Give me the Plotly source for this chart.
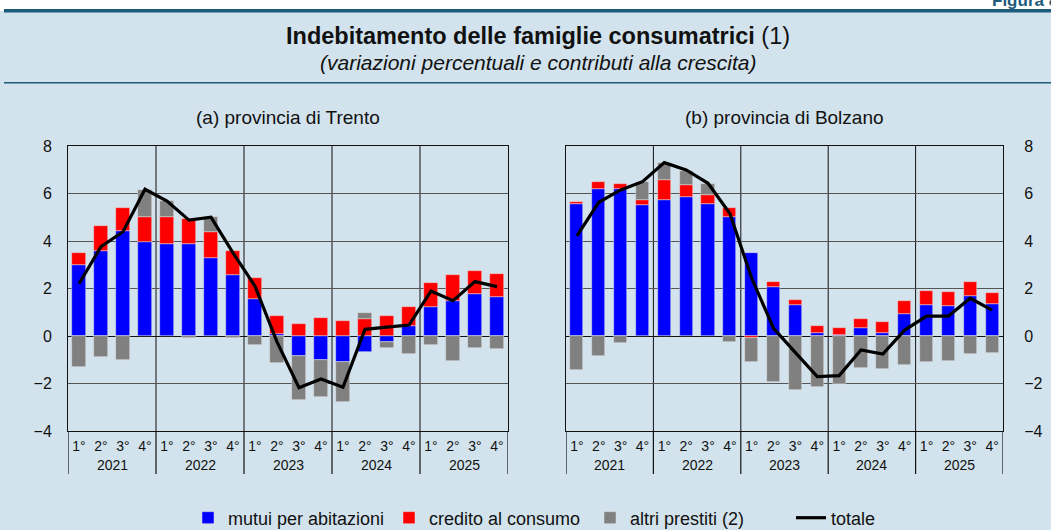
import plotly.graph_objects as go

W, H = 1051, 530

years = ["2021", "2022", "2023", "2024", "2025"]
quarters = ["1°", "2°", "3°", "4°"]

# Trento contributions
tn_mutui = [3.00, 3.58, 4.43, 3.97, 3.87, 3.89, 3.27, 2.57, 1.56, 0.08,
            -0.84, -1.01, -1.09, -0.67, -0.25, 0.44, 1.21, 1.46, 1.75, 1.66]
tn_credito = [0.50, 1.07, 0.97, 1.03, 1.15, 1.05, 1.12, 0.99, 0.87, 0.76,
              0.50, 0.74, 0.63, 0.70, 0.86, 0.77, 1.04, 1.10, 1.00, 0.96]
tn_altri = [-1.29, -0.90, -1.01, 1.15, 0.66, -0.10, 0.61, -0.10, -0.38, -1.15,
            -1.84, -1.57, -1.69, 0.25, -0.25, -0.76, -0.38, -1.05, -0.49, -0.56]
tn_totale = [2.20, 3.76, 4.39, 6.18, 5.68, 4.88, 5.00, 3.50, 2.10, -0.25,
             -2.18, -1.81, -2.16, 0.28, 0.37, 0.46, 1.89, 1.49, 2.29, 2.08]

# Bolzano contributions
bz_mutui = [5.56, 6.19, 6.18, 5.53, 5.74, 5.87, 5.56, 5.02, 3.49, 2.08,
            1.31, 0.11, 0.04, 0.35, 0.14, 0.91, 1.32, 1.25, 1.70, 1.33]
bz_credito = [0.10, 0.28, 0.23, 0.20, 0.84, 0.49, 0.38, 0.35, -0.10, 0.21,
              0.19, 0.31, 0.28, 0.37, 0.46, 0.56, 0.59, 0.60, 0.59, 0.48]
bz_altri = [-1.43, -0.84, -0.31, 0.74, 0.69, 0.60, 0.46, -0.24, -1.01, -1.94,
            -2.26, -2.15, -2.00, -1.36, -1.40, -1.23, -1.09, -1.04, -0.74, -0.72]
bz_totale = [4.22, 5.63, 6.15, 6.50, 7.30, 6.99, 6.43, 5.16, 2.43, 0.32,
             -0.70, -1.71, -1.67, -0.59, -0.76, 0.25, 0.84, 0.84, 1.59, 1.09]

y_ticks = [-4, -2, 0, 2, 4, 6, 8]

series_names = ["mutui per abitazioni", "credito al consumo", "altri prestiti (2)", "totale"]
colors = ["#0000ff", "#ff0000", "#808080", "#000000"]

FONT = "Liberation Sans, Arial, sans-serif"
BG = "#d2e3ed"
TEAL = "#1d5c7c"

n = len(years) * len(quarters)
xs = list(range(n))
qlabels = quarters * len(years)

def px_x(p):
    return p / W

def px_y(p):
    return (H - p) / H

fig = go.Figure()

panels = [
    (tn_mutui, tn_credito, tn_altri, tn_totale, "x", "y", True),
    (bz_mutui, bz_credito, bz_altri, bz_totale, "x2", "y2", False),
]
for mut, cre, alt, tot, xa, ya, show in panels:
    for vals, name, col in zip([mut, cre, alt], series_names[:3], colors[:3]):
        fig.add_trace(go.Bar(
            x=xs, y=vals, name=name,
            marker=dict(color=col, line=dict(color="rgba(230,230,230,0.8)", width=0.6)),
            width=0.6, xaxis=xa, yaxis=ya, showlegend=show, legendgroup=name))
    fig.add_trace(go.Scatter(
        x=xs, y=tot, name=series_names[3], mode="lines",
        line=dict(color="#000000", width=3.2), xaxis=xa, yaxis=ya,
        showlegend=show, legendgroup=series_names[3]))

x1_dom = [px_x(68), px_x(508)]
x2_dom = [px_x(566), px_x(1003)]
y_dom = [px_y(431), px_y(146)]

xcommon = dict(range=[-0.5, n - 0.5], tickmode="array", tickvals=xs, ticktext=qlabels,
               ticks="", showgrid=False, zeroline=False, showline=True, linecolor="#111",
               linewidth=1, mirror=True, tickfont=dict(family=FONT, size=14, color="#111"),
               ticklabelstandoff=2, fixedrange=True, automargin=False)
ycommon = dict(range=[-4, 8], tickmode="array", tickvals=y_ticks, ticks="",
               showgrid=True, gridcolor="#555555", gridwidth=1, zeroline=True,
               zerolinecolor="#111", zerolinewidth=1, showline=True, linecolor="#111",
               linewidth=1, mirror=True, tickfont=dict(family=FONT, size=16, color="#111"),
               domain=y_dom, fixedrange=True, automargin=False)

fig.update_layout(
    width=W, height=H,
    autosize=False,
    margin=dict(l=0, r=0, t=0, b=0, pad=0, autoexpand=False),
    paper_bgcolor="#ffffff",
    plot_bgcolor="#ffffff",
    barmode="relative",
    bargap=0,
    font=dict(family=FONT, color="#111"),
    xaxis=dict(domain=x1_dom, anchor="y", **xcommon),
    yaxis=dict(anchor="x", side="left", ticklabelstandoff=12, **ycommon),
    xaxis2=dict(domain=x2_dom, anchor="y2", **xcommon),
    yaxis2=dict(anchor="x2", side="right", ticklabelstandoff=17, **ycommon),
    legend=dict(orientation="h", xref="paper", yref="paper",
                x=188 / W, xanchor="left", y=px_y(518), yanchor="middle",
                font=dict(family=FONT, size=18, color="#111"), bgcolor="rgba(0,0,0,0)",
                itemwidth=30, traceorder="normal", entrywidth=156, entrywidthmode="pixels"),
    showlegend=True,
)

shapes = []
# white strip at the very top, light blue panel below it
shapes.append(dict(type="rect", xref="paper", yref="paper", x0=0, x1=1, y0=0, y1=px_y(11),
                   fillcolor=BG, line=dict(width=0), layer="below"))
# top rule and separator
shapes.append(dict(type="rect", xref="paper", yref="paper", x0=px_x(4), x1=1, y0=px_y(12.5), y1=px_y(9),
                   fillcolor=TEAL, line=dict(width=0)))
shapes.append(dict(type="rect", xref="paper", yref="paper", x0=px_x(4), x1=1, y0=px_y(83.5), y1=px_y(82),
                   fillcolor=TEAL, line=dict(width=0)))

for xa, ya in [("x", "y"), ("x2", "y2")]:
    for k in range(len(years) + 1):
        xb = -0.5 + 4 * k
        if 0 < k < len(years):
            shapes.append(dict(type="line", xref=xa, yref=ya, x0=xb, x1=xb, y0=-4, y1=8,
                               line=dict(color="#111", width=1), layer="below"))
        shapes.append(dict(type="line", xref=xa, yref="paper", x0=xb, x1=xb,
                           y0=px_y(474), y1=px_y(431), line=dict(color="#111", width=1.2)))
fig.update_layout(shapes=shapes)

ann = []
ann.append(dict(text="<b>Indebitamento delle famiglie consumatrici</b> (1)", xref="paper", yref="paper",
                x=px_x(538), y=px_y(35.5), xanchor="center", yanchor="middle", showarrow=False,
                font=dict(family=FONT, size=23.5, color="#111")))
ann.append(dict(text="<i>(variazioni percentuali e contributi alla crescita)</i>", xref="paper", yref="paper",
                x=px_x(538), y=px_y(62.5), xanchor="center", yanchor="middle", showarrow=False,
                font=dict(family=FONT, size=21, color="#111")))
ann.append(dict(text="<b>Figura 8</b>", xref="paper", yref="paper", x=px_x(1060), y=px_y(12),
                xanchor="right", yanchor="bottom", showarrow=False,
                font=dict(family=FONT, size=17, color=TEAL)))
ann.append(dict(text="(a) provincia di Trento", xref="paper", yref="paper",
                x=(x1_dom[0] + x1_dom[1]) / 2, y=px_y(118), xanchor="center", yanchor="middle",
                showarrow=False, font=dict(family=FONT, size=19, color="#111")))
ann.append(dict(text="(b) provincia di Bolzano", xref="paper", yref="paper",
                x=(x2_dom[0] + x2_dom[1]) / 2, y=px_y(118), xanchor="center", yanchor="middle",
                showarrow=False, font=dict(family=FONT, size=19, color="#111")))
for xa in ["x", "x2"]:
    for i, yr in enumerate(years):
        ann.append(dict(text=yr, xref=xa, yref="paper", x=4 * i + 1.5, y=px_y(465),
                        xanchor="center", yanchor="middle", showarrow=False,
                        font=dict(family=FONT, size=14, color="#111")))
fig.update_layout(annotations=ann)

fig.write_html("out.html",
               config={"displayModeBar": False},
               post_script="document.body.style.margin='0px';document.body.style.overflow='hidden';")
